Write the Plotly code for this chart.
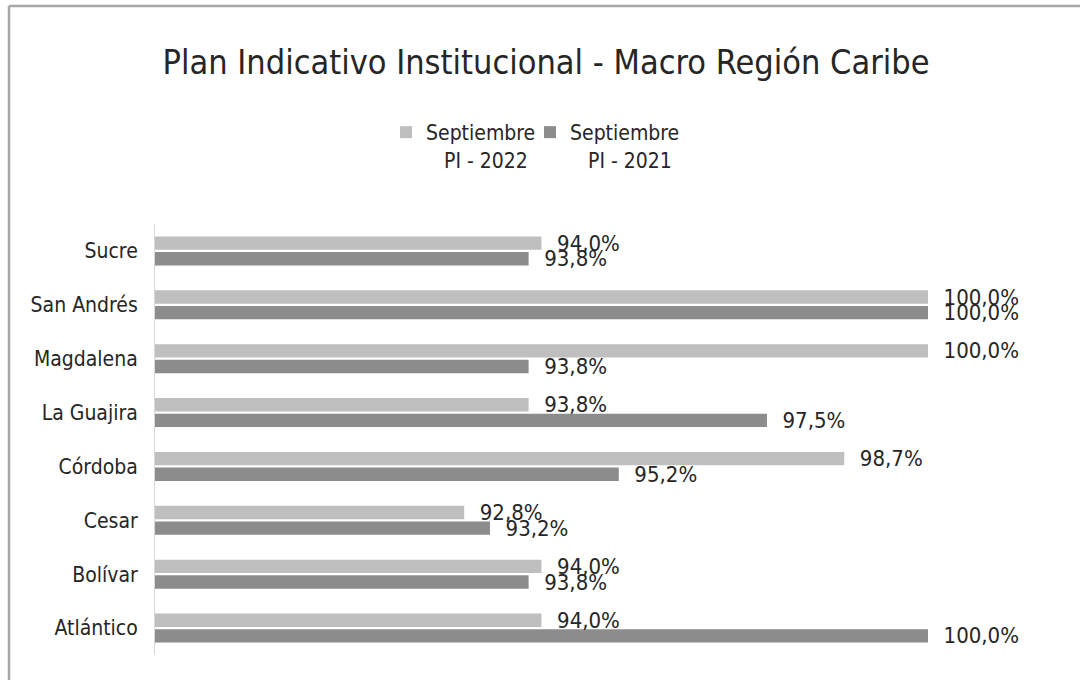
import plotly.graph_objects as go

categories = ["Atlántico", "Bolívar", "Cesar", "Córdoba", "La Guajira", "Magdalena", "San Andrés", "Sucre"]
pi_2022 = [94.0, 94.0, 92.8, 98.7, 93.8, 100.0, 100.0, 94.0]
pi_2021 = [100.0, 93.8, 93.2, 95.2, 97.5, 93.8, 100.0, 93.8]
series_names = ["Septiembre<br>\u00a0\u00a0\u00a0PI - 2022", "Septiembre<br>\u00a0\u00a0\u00a0PI - 2021"]

FONT = "DejaVu Sans Condensed, DejaVu Sans, sans-serif"
LIGHT = "#bfbfbf"
DARK = "#8c8c8c"
TXT = "#262626"

W, H = 1080, 680
L, R, T, B = 155, 152, 224, 25
pw, ph = W - L - R, H - T - B

fig = go.Figure()
fig.add_trace(go.Bar(
    y=categories, x=pi_2021, orientation="h", name=series_names[1],
    marker=dict(color=DARK, line=dict(width=0)), legend="legend2",
    texttemplate="\u00a0\u00a0%{x:.1f}%", textposition="outside",
    constraintext="none", cliponaxis=False,
    textfont=dict(family=FONT, size=22, color=TXT),
))
fig.add_trace(go.Bar(
    y=categories, x=pi_2022, orientation="h", name=series_names[0],
    marker=dict(color=LIGHT, line=dict(width=0)), legend="legend",
    texttemplate="\u00a0\u00a0%{x:.1f}%", textposition="outside",
    constraintext="none", cliponaxis=False,
    textfont=dict(family=FONT, size=22, color=TXT),
))

def px_x(px):
    return (px - L) / pw

def px_y(py):
    return (H - B - py) / ph

legend_style = dict(orientation="h", xanchor="left", y=px_y(112), yanchor="top",
                    valign="top", font=dict(family=FONT, size=21, color=TXT),
                    itemclick=False, bgcolor="rgba(0,0,0,0)")

fig.update_layout(
    width=W, height=H,
    margin=dict(l=L, r=R, t=T, b=B, autoexpand=False),
    paper_bgcolor="white", plot_bgcolor="white",
    separators=",.",
    barmode="group", bargap=0.42, bargroupgap=0.14,
    font=dict(family=FONT, color=TXT),
    title=dict(text="Plan Indicativo Institucional - Macro Región Caribe",
               x=546 / W, xref="container", xanchor="center",
               y=1 - 62 / H, yref="container", yanchor="middle",
               font=dict(family=FONT, size=34, color=TXT)),
    legend=dict(x=px_x(386), **legend_style),
    legend2=dict(x=px_x(530), **legend_style),
    showlegend=True,
    xaxis=dict(range=[88, 100], visible=False, fixedrange=True),
    yaxis=dict(type="category", categoryorder="array", categoryarray=categories,
               showline=True, linecolor="#d9d9d9", linewidth=1, automargin=False,
               showgrid=False, ticks="", ticklabelstandoff=12,
               tickfont=dict(family=FONT, size=21, color=TXT), fixedrange=True),
    shapes=[
        dict(type="line", xref="paper", yref="paper",
             x0=px_x(9), x1=px_x(9), y0=px_y(H + 5), y1=px_y(6),
             line=dict(color="#a6a6a6", width=2.5)),
        dict(type="line", xref="paper", yref="paper",
             x0=px_x(9), x1=px_x(W + 5), y0=px_y(6), y1=px_y(6),
             line=dict(color="#a6a6a6", width=2.5)),
    ],
)

fig.write_html("out.html", config={"displayModeBar": False},
               post_script="document.body.style.margin='0px';")
